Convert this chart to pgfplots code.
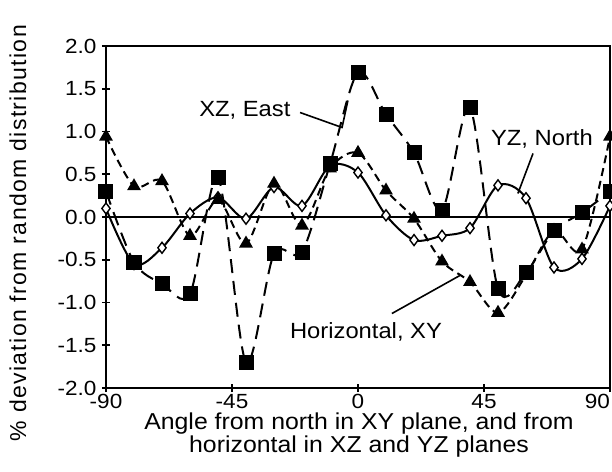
\documentclass[border=0pt]{standalone}
\usepackage{pgfplots}
\pgfplotsset{compat=1.18}
\usepackage{fontspec}
\setmainfont{Liberation Sans}
\newfontfamily\tickfont[FakeStretch=1.1]{Liberation Sans}
\newfontfamily\labfont[FakeStretch=1.08]{Liberation Sans}
\newfontfamily\ylabfont[LetterSpace=6]{Liberation Sans}

\begin{document}
\begin{tikzpicture}
\path[use as bounding box] (-106pt,-83pt) rectangle (506pt,388pt);
\begin{axis}[
  scale only axis, width=504pt, height=342pt,
  at={(0,0)}, anchor=south west,
  xmin=-90, xmax=90, ymin=-2, ymax=2,
  xtick={-90,-45,0,45,90}, xticklabels={-90,-45,0,45,\llap{90}},
  ytick={-2,-1.5,-1,-0.5,0,0.5,1,1.5,2},
  yticklabels={-2.0,-1.5,-1.0,-0.5,0.0,0.5,1.0,1.5,2.0},
  tick pos=left, tick align=center, major tick length=8pt,
  axis line style={line width=2pt},
  tick style={line width=1.8pt, black},
  ticklabel style={font=\tickfont\fontsize{20.5}{24}\selectfont},
  yticklabel style={xshift=-2pt},
  xticklabel style={yshift=1pt},
  xlabel={Angle from north in XY plane, and from\\horizontal in XZ and YZ planes},
  xlabel style={at={(axis description cs:0.502,0)}, anchor=center, yshift=-47pt,
    align=center, font=\labfont\fontsize{23}{20}\selectfont},
  ylabel={\% deviation from random distribution},
  ylabel style={at={(axis description cs:-0.175,0.453)}, anchor=center,
    font=\ylabfont\fontsize{23}{26}\selectfont},
]
\draw[line width=1.4pt] (axis cs:-90,0) -- (axis cs:90,0);

% YZ, North
\addplot[black, line width=2pt, smooth, mark=diamond*, mark size=5.5pt,
  mark options={fill=white, line width=1.4pt}]
  coordinates {(-90,0.10) (-80,-0.55) (-70,-0.36) (-60,0.04) (-50,0.23)
    (-40,-0.02) (-30,0.35) (-20,0.13) (-10,0.60) (0,0.52) (10,0.02)
    (20,-0.27) (30,-0.22) (40,-0.13) (50,0.37) (60,0.22) (70,-0.59)
    (80,-0.49) (90,0.13)};

% Horizontal, XY
\addplot[black, line width=2pt, smooth, dash pattern=on 8pt off 5pt,
  mark=triangle*, mark size=6pt, mark options={solid}]
  coordinates {(-90,0.94) (-80,0.36) (-70,0.42) (-60,-0.22) (-50,0.20)
    (-40,-0.31) (-30,0.39) (-20,-0.10) (-10,0.57) (0,0.75) (10,0.31)
    (20,-0.02) (30,-0.52) (40,-0.76) (50,-1.12) (60,-0.68) (70,-0.16)
    (80,-0.38) (90,0.94)};

% XZ, East
\addplot[black, line width=2pt, smooth, dash pattern=on 14pt off 8pt,
  mark=square*, mark size=6.5pt, mark options={solid}]
  coordinates {(-90,0.30) (-80,-0.53) (-70,-0.78) (-60,-0.90) (-50,0.46)
    (-40,-1.70) (-30,-0.43) (-20,-0.41) (-10,0.62) (0,1.69) (10,1.20)
    (20,0.75) (30,0.08) (40,1.28) (50,-0.84) (60,-0.65) (70,-0.16)
    (80,0.05) (90,0.30)};

\node[font=\labfont\fontsize{22}{26}\selectfont] at (axis cs:-40.4,1.246) {XZ, East};
\draw[line width=1.6pt] (axis cs:-20.7,1.222) -- (axis cs:-5.7,1.047) -- (axis cs:-3.6,1.363);
\node[font=\labfont\fontsize{22}{26}\selectfont] at (axis cs:65.7,0.918) {YZ, North};
\draw[line width=1.6pt] (axis cs:62.5,0.743) -- (axis cs:57.1,0.275);
\node[font=\labfont\fontsize{22}{26}\selectfont] at (axis cs:2.86,-1.34) {Horizontal, XY};
\draw[line width=1.6pt] (axis cs:12.1,-1.129) -- (axis cs:36.4,-0.684);
\end{axis}
\end{tikzpicture}
\end{document}
